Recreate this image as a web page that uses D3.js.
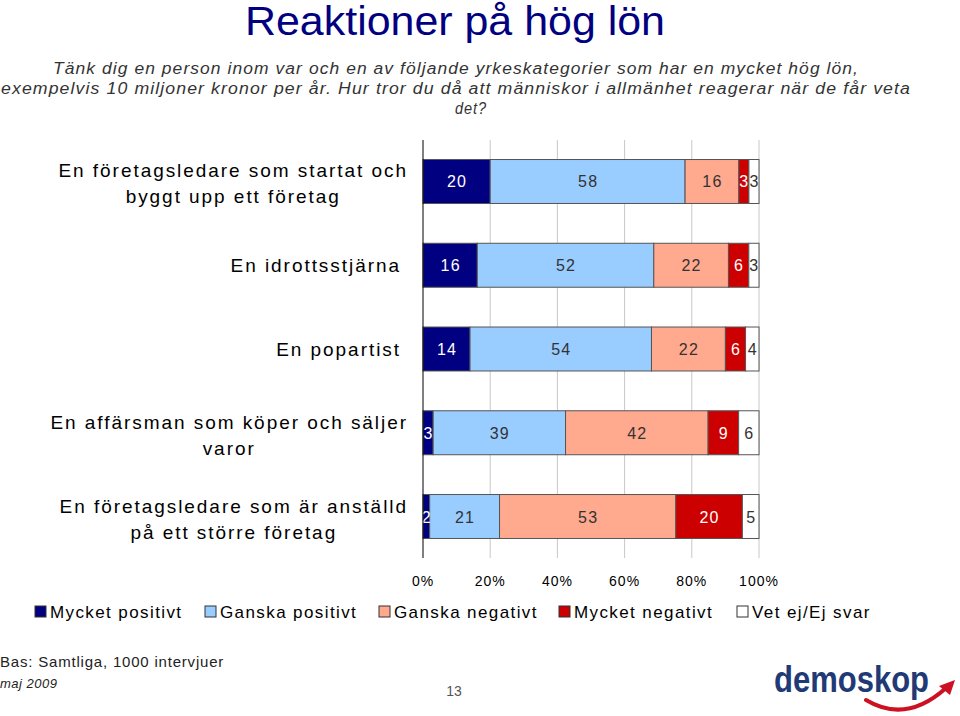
<!DOCTYPE html>
<html><head><meta charset="utf-8">
<script src="https://cdn.jsdelivr.net/npm/d3@7"></script>
<style>
body{margin:0;background:#fff;}
svg{display:block;font-family:"Liberation Sans",Arial,sans-serif;}
</style></head>
<body>
<svg id="chart" width="960" height="716"></svg>
<script>
const title = "Reaktioner på hög lön";
const subtitleLines = [
  "Tänk dig en person inom var och en av följande yrkeskategorier som har en mycket hög lön,",
  "exempelvis 10 miljoner kronor per år. Hur tror du då att människor i allmänhet reagerar när de får veta",
  "det?"
];
const categories = [
  ["En företagsledare som startat och", "byggt upp ett företag"],
  ["En idrottsstjärna"],
  ["En popartist"],
  ["En affärsman som köper och säljer", "varor"],
  ["En företagsledare som är anställd", "på ett större företag"]
];
const seriesNames = ["Mycket positivt", "Ganska positivt", "Ganska negativt", "Mycket negativt", "Vet ej/Ej svar"];
const mycketPositivt = [20, 16, 14, 3, 2];
const ganskaPositivt = [58, 52, 54, 39, 21];
const ganskaNegativt = [16, 22, 22, 42, 53];
const mycketNegativt = [3, 6, 6, 9, 20];
const vetEj = [3, 3, 4, 6, 5];
const tickValues = [0, 0.2, 0.4, 0.6, 0.8, 1.0];
const tickLabels = ["0%", "20%", "40%", "60%", "80%", "100%"];
const colors = ["#000080", "#99CCFF", "#FFA98F", "#CC0000", "#FFFFFF"];
const labelColors = ["#FFFFFF", "#333333", "#333333", "#FFFFFF", "#333333"];
const footerBase = "Bas: Samtliga, 1000 intervjuer";
const footerDate = "maj 2009";
const pageNo = "13";

const series = [mycketPositivt, ganskaPositivt, ganskaNegativt, mycketNegativt, vetEj];
const svg = d3.select("#chart");

// Title
svg.append("text").attr("x", 455).attr("y", 35).attr("text-anchor", "middle")
  .attr("font-family", "'Liberation Sans Narrow','Liberation Sans',sans-serif")
  .attr("font-size", 40).attr("fill", "#000080")
  .attr("textLength", 420).attr("lengthAdjust", "spacingAndGlyphs")
  .text(title);

// Subtitle
const subW = [806, 910, 32];
subtitleLines.forEach((l, i) => {
  svg.append("text").attr("x", i === 2 ? 471 : 456).attr("y", 74 + i * 20)
    .attr("text-anchor", "middle").attr("font-style", "italic")
    .attr("font-size", 16).attr("fill", "#333").attr("letter-spacing", 1)
    .attr("textLength", subW[i]).attr("lengthAdjust", "spacingAndGlyphs")
    .text(l);
});

// Scales
const x = d3.scaleLinear().domain([0, 1]).range([423, 759]);
const y = d3.scaleBand().domain(d3.range(categories.length)).range([140, 558])
  .paddingInner(0.475).paddingOuter(0.233);

// gridlines
svg.append("g").selectAll("line").data(tickValues.slice(1)).join("line")
  .attr("x1", d => x(d)).attr("x2", d => x(d)).attr("y1", 140).attr("y2", 558)
  .attr("stroke", "#c8c8c8").attr("stroke-width", 1);

// stacked data
const rows = categories.map((c, i) => {
  const vals = series.map(s => s[i]);
  const tot = d3.sum(vals);
  let cum = 0;
  return vals.map((v, k) => { const seg = {i, k, v, x0: cum / tot, x1: (cum + v) / tot}; cum += v; return seg; });
});
const segs = rows.flat();

svg.append("g").selectAll("rect").data(segs).join("rect")
  .attr("x", d => x(d.x0)).attr("width", d => x(d.x1) - x(d.x0))
  .attr("y", d => y(d.i)).attr("height", y.bandwidth())
  .attr("fill", d => colors[d.k]).attr("stroke", "#555").attr("stroke-width", 1);

svg.append("g").selectAll("text").data(segs).join("text")
  .attr("x", d => (x(d.x0) + x(d.x1)) / 2 + 0.5)
  .attr("y", d => y(d.i) + y.bandwidth() / 2 + 6)
  .attr("text-anchor", "middle").attr("font-size", 16).attr("letter-spacing", 1.2)
  .attr("fill", d => labelColors[d.k]).text(d => d.v);

// axis line
svg.append("line").attr("x1", 423).attr("x2", 423).attr("y1", 140).attr("y2", 558)
  .attr("stroke", "#000").attr("stroke-width", 1);

// x tick labels
svg.append("g").selectAll("text").data(tickValues).join("text")
  .attr("x", d => x(d)).attr("y", 586).attr("text-anchor", "middle")
  .attr("font-size", 14).attr("letter-spacing", 1).attr("fill", "#000")
  .text((d, i) => tickLabels[i]);

// category labels
categories.forEach((lines, i) => {
  const g = svg.append("g");
  const cy = y(i) + y.bandwidth() / 2;
  const lh = 26;
  const texts = lines.map((l, j) => g.append("text")
    .attr("y", cy + 7 + (j - (lines.length - 1) / 2) * lh + (lines.length > 1 ? 2 : 0))
    .attr("text-anchor", "middle").attr("font-size", 19).attr("letter-spacing", 1.95)
    .attr("fill", "#000").text(l));
  const maxW = d3.max(texts, t => t.node().getComputedTextLength());
  const right = lines.length > 1 ? 408 : 401;
  texts.forEach(t => t.attr("x", right - maxW / 2));
});

// legend
const legX = [35, 205, 379, 559, 737];
seriesNames.forEach((n, k) => {
  svg.append("rect").attr("x", legX[k]).attr("y", 606).attr("width", 11).attr("height", 11)
    .attr("fill", colors[k]).attr("stroke", "#333").attr("stroke-width", 1);
  svg.append("text").attr("x", legX[k] + 15).attr("y", 618).attr("font-size", 17)
    .attr("letter-spacing", 1.4).attr("fill", "#000").text(n);
});

// footer
svg.append("text").attr("x", 0).attr("y", 667).attr("font-size", 15).attr("letter-spacing", 0.8)
  .attr("fill", "#222").text(footerBase);
svg.append("text").attr("x", 0).attr("y", 688).attr("font-size", 13).attr("font-style", "italic")
  .attr("letter-spacing", 0.5).attr("fill", "#222").text(footerDate);
svg.append("text").attr("x", 454).attr("y", 696).attr("text-anchor", "middle").attr("font-size", 14)
  .attr("fill", "#555").text(pageNo);

// logo
svg.append("path").attr("d", "M866,700 Q906,724 946,688").attr("fill", "none")
  .attr("stroke", "#cc1122").attr("stroke-width", 4).attr("stroke-linecap", "round");
svg.append("path").attr("d", "M955,680 L939,686 L950,695 Z").attr("fill", "#cc1122");
svg.append("text").attr("x", 774).attr("y", 692).attr("font-size", 36).attr("font-weight", "bold")
  .attr("fill", "#1f3a75").attr("textLength", 155).attr("lengthAdjust", "spacingAndGlyphs")
  .text("demoskop");
</script>
</body></html>
